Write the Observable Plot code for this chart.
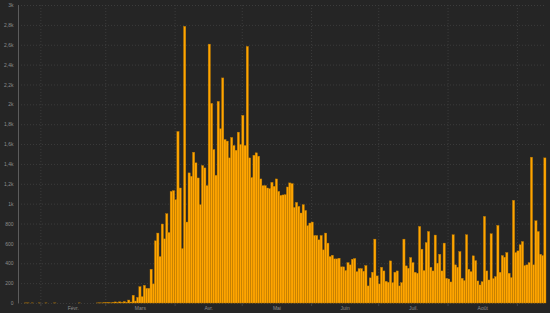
<!DOCTYPE html>
<html><head><meta charset="utf-8">
<script src="https://cdn.jsdelivr.net/npm/d3@7"></script>
<script src="https://cdn.jsdelivr.net/npm/@observablehq/plot@0.6"></script>
<style>
html,body{margin:0;padding:0;background:#252525;}
#chart svg{display:block;}
</style></head><body><div id="chart"></div>
<script>
const startDate = "2020-01-22";
const endDate = "2020-09-14";
const janValues = [0,0,0,1,1,0,1,0,0,1];
const febValues = [0,0,1,0,0,0,1,0,0,0, 0,0,0,0,0,0,0,1,0,0, 0,0,0,0,0,1,2,1,3];
const marchApril = [3,5,2,6,11,4,12,6,15,8,
  30,10,78,20,57,165,64,178,148,148,340,192,626,704,468,795,646,899,710,1124,1131,1040,1727,1158,548,2785,815,1310,1276,1518,1411,1259,990,1384,1360,1182,2606];
const aprilMay = [2010,1545,1286,2030,1754,2266,1646,1630,1461,1667,1586,1538,1720,1596,1889,1586,2583,1461,1263,1488,1512,1478,1249,1182,1182,1158,1151,1215,1175,1249,1124,1084,1088,1091,1168,1209,1202,962,1013,973,906,990,932,778,805,815,680,680,636];
const juneJuly = [680,535,704,603,468,481,444,444,451,364,364,327,407,384,441,448,316,347,347,320,377,172,253,310,643,273,192,360,323,219,209,424,205,310,323,172,205,643,374,350,458,407,310,300,771,542,327,609];
const julySept = [720,360,323,684,401,491,323,603,249,242,212,687,384,360,518,249,226,687,340,316,475,427,222,182,215,872,323,232,697,246,266,781,310,478,461,508,300,256,1034,508,525,586,619,377,384,407,1468,384,828,720,491,478,1461];
const monthLabels = ["Févr.", "Mars", "Avr.", "Mai", "Juin", "Juil.", "Août"];
const yTicks = [0,200,400,600,800,1000,1200,1400,1600,1800,2000,2200,2400,2600,2800,3000];
const yTickLabels = ["0","200","400","600","800","1k","1,2k","1,4k","1,6k","1,8k","2k","2,2k","2,4k","2,6k","2,8k","3k"];

const values = [...janValues, ...febValues, ...marchApril, ...aprilMay, ...juneJuly, ...julySept];
const t0 = new Date(startDate);
const t1 = new Date(endDate);
const data = values.map((v, i) => ({date: d3.utcDay.offset(t0, i), value: v}));
const monthStarts = d3.utcMonth.range(new Date("2020-02-01"), new Date("2020-09-02"));
const monthMids = monthStarts.slice(0, -1).map((d, i) => new Date((+d + +monthStarts[i + 1]) / 2));

const chart = Plot.plot({
  width: 550, height: 313,
  marginLeft: 18, marginRight: 4, marginTop: 5, marginBottom: 10,
  style: {background: "#252525", color: "#8c8c8c", fontSize: "5px", fontFamily: "Liberation Sans, Arial, sans-serif"},
  x: {type: "utc", domain: [t0, t1], label: null},
  y: {domain: [0, 3000], label: null},
  marks: [
    Plot.gridY(yTicks, {stroke: "#3c3c3c", strokeOpacity: 1, strokeDasharray: "1,2"}),
    Plot.gridX(monthStarts, {stroke: "#3c3c3c", strokeOpacity: 1, strokeDasharray: "1,2"}),
    Plot.rectY(data, {x: "date", y: "value", interval: "day", inset: 0, fill: "#ffa500", stroke: "#b97800", strokeWidth: 0.4}),
    Plot.ruleX([t0], {stroke: "#5c5c5c"}),
    Plot.axisY(yTicks, {label: null, tickSize: 0, tickPadding: 5, tickFormat: d => yTickLabels[yTicks.indexOf(d)]}),
    Plot.axisX(monthStarts, {label: null, tickSize: 3, stroke: "#444", tickFormat: () => ""}),
    Plot.axisX(monthMids, {label: null, tickSize: 0, tickPadding: 3, tickFormat: d => monthLabels[monthMids.findIndex(m => +m === +d)]})
  ]
});
document.getElementById("chart").appendChild(chart);
</script>
</body></html>
